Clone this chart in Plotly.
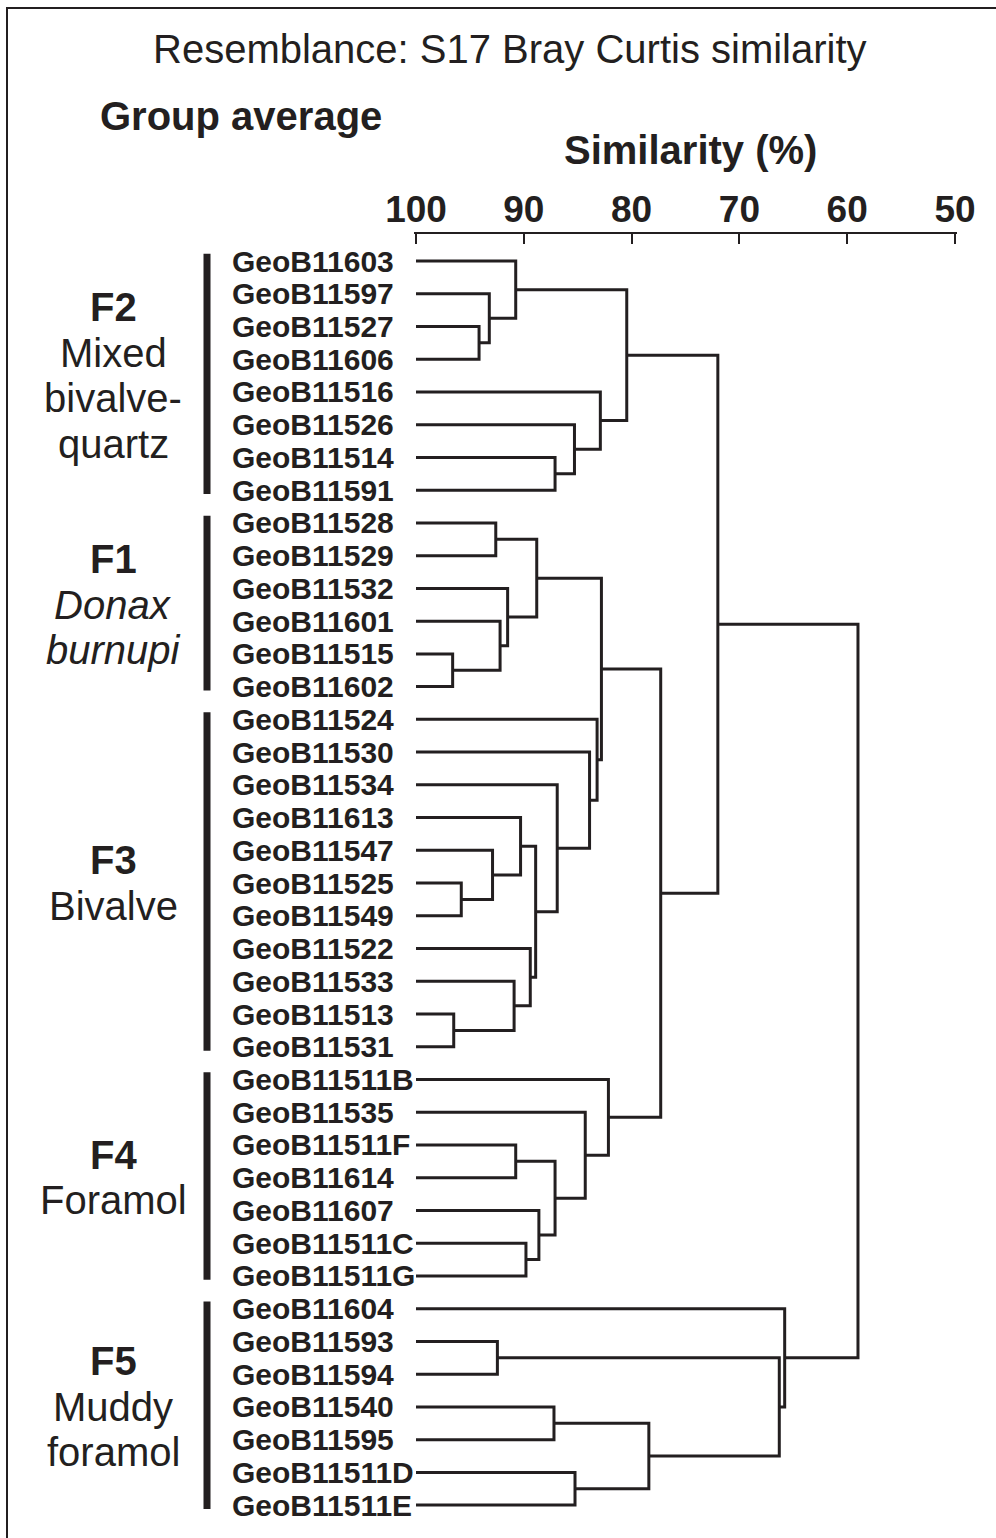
import plotly.graph_objects as go

# Sample names in dendrogram order (top to bottom)
leaves = [
    "GeoB11603", "GeoB11597", "GeoB11527", "GeoB11606", "GeoB11516", "GeoB11526",
    "GeoB11514", "GeoB11591", "GeoB11528", "GeoB11529", "GeoB11532", "GeoB11601",
    "GeoB11515", "GeoB11602", "GeoB11524", "GeoB11530", "GeoB11534", "GeoB11613",
    "GeoB11547", "GeoB11525", "GeoB11549", "GeoB11522", "GeoB11533", "GeoB11513",
    "GeoB11531", "GeoB11511B", "GeoB11535", "GeoB11511F", "GeoB11614", "GeoB11607",
    "GeoB11511C", "GeoB11511G", "GeoB11604", "GeoB11593", "GeoB11594", "GeoB11540",
    "GeoB11595", "GeoB11511D", "GeoB11511E",
]

# Group-average agglomeration: ids below 39 are samples,
# id 39 + k is the cluster formed at step k
merge_a = [2, 1, 0, 6, 5, 4, 41,
           12, 11, 10, 8, 49,
           19, 18, 17, 23, 22, 21, 53, 16, 15, 14, 50,
           27, 30, 29, 62, 26, 25, 61, 45,
           33, 35, 37, 71, 70, 32, 69]
merge_b = [3, 39, 40, 7, 42, 43, 44,
           13, 46, 47, 9, 48,
           20, 51, 52, 24, 54, 55, 56, 57, 58, 59, 60,
           28, 31, 63, 64, 65, 66, 67, 68,
           34, 36, 38, 72, 73, 74, 75]
merge_sim = [94.15, 93.2, 90.75, 87.1, 85.3, 82.9, 80.45,
             96.6, 92.2, 91.5, 92.6, 88.8,
             95.8, 92.9, 90.3, 96.5, 90.9, 89.4, 88.9, 86.9, 83.9, 83.2, 82.8,
             90.75, 89.8, 88.6, 87.1, 84.3, 82.15, 77.3, 72.0,
             92.45, 87.2, 85.25, 78.4, 66.3, 65.8, 59.0]

# Faunal groups: code, description lines, first and last sample index
group_codes = ["F2", "F1", "F3", "F4", "F5"]
group_desc = [["Mixed", "bivalve-", "quartz"], ["<i>Donax</i>", "<i>burnupi</i>"],
              ["Bivalve"], ["Foramol"], ["Muddy", "foramol"]]
group_first = [0, 8, 14, 25, 32]
group_last = [7, 13, 24, 31, 38]

sim_ticks = [100, 90, 80, 70, 60, 50]

INK = "#231f20"
FONT = "Liberation Sans, Arial, sans-serif"

# Build the dendrogram polylines
n = len(leaves)
node_x = [100.0] * n
node_y = [float(i) for i in range(n)]
xs, ys = [], []
for a, b, s in zip(merge_a, merge_b, merge_sim):
    xs += [node_x[a], s, s, node_x[b], None]
    ys += [node_y[a], node_y[a], node_y[b], node_y[b], None]
    node_x.append(s)
    node_y.append((node_y[a] + node_y[b]) / 2)

fig = go.Figure()
fig.add_trace(go.Scatter(x=xs, y=ys, mode="lines",
                         line=dict(color=INK, width=3), hoverinfo="skip",
                         showlegend=False))

W, H = 996, 1538
ML, MR, MT, MB = 414, 39, 234, 18
pw, ph = W - ML - MR, H - MT - MB
X100, PX_PER_UNIT = 416.0, 10.78     # screen position of 100 % and scale
LEAF0, PX_PER_LEAF = 261.0, 32.74


def px(x):
    return (x - ML) / pw


def py(y):
    return (H - MB - y) / ph


annotations = []
for i, name in enumerate(leaves):
    annotations.append(dict(x=px(230), xref="paper", y=i, yref="y", text=name,
                            xanchor="left", yanchor="middle", showarrow=False,
                            font=dict(family=FONT, size=30, color=INK, weight="bold")))

shapes = []
for code, desc, f, l in zip(group_codes, group_desc, group_first, group_last):
    lines = [("<b>%s</b>" % code)] + desc
    centre = (f + l) / 2
    step = 1.39
    for k, t in enumerate(lines):
        yy = centre + (k - (len(lines) - 1) / 2) * step
        annotations.append(dict(x=px(113), xref="paper", y=yy, yref="y", text=t,
                                xanchor="center", yanchor="middle", showarrow=False,
                                font=dict(family=FONT, size=40, color=INK)))
    shapes.append(dict(type="line", xref="paper", yref="y",
                       x0=px(207), x1=px(207), y0=f - 0.22, y1=l + 0.12,
                       line=dict(color=INK, width=7)))

annotations += [
    dict(x=px(510), y=py(49), xref="paper", yref="paper",
         text="Resemblance: S17 Bray Curtis similarity", showarrow=False,
         xanchor="center", yanchor="middle",
         font=dict(family=FONT, size=40, color=INK)),
    dict(x=px(241), y=py(116), xref="paper", yref="paper",
         text="Group average", showarrow=False, xanchor="center", yanchor="middle",
         font=dict(family=FONT, size=40, color=INK, weight="bold")),
    dict(x=px(690), y=py(150), xref="paper", yref="paper",
         text="Similarity (%)", showarrow=False, xanchor="center", yanchor="middle",
         font=dict(family=FONT, size=40, color=INK, weight="bold")),
]

# Outer frame
shapes.append(dict(type="rect", xref="paper", yref="paper",
                   x0=px(7), x1=px(1010), y0=py(1550), y1=py(8),
                   line=dict(color=INK, width=2)))

x_left = 100 + (X100 - ML) / PX_PER_UNIT
x_right = x_left - pw / PX_PER_UNIT
y_top = (MT - LEAF0) / PX_PER_LEAF
y_bottom = y_top + ph / PX_PER_LEAF

fig.update_layout(
    width=W, height=H,
    margin=dict(l=ML, r=MR, t=MT, b=MB),
    paper_bgcolor="white", plot_bgcolor="white",
    annotations=annotations, shapes=shapes,
    xaxis=dict(range=[x_left, x_right], side="top", tickvals=sim_ticks,
               ticktext=[str(t) for t in sim_ticks],
               showline=True, linecolor=INK, linewidth=2, mirror=False,
               ticks="inside", ticklen=10, tickwidth=2, tickcolor=INK,
               ticklabelstandoff=-5,
               tickfont=dict(family=FONT, size=37, color=INK, weight="bold"),
               showgrid=False, zeroline=False, fixedrange=True),
    yaxis=dict(range=[y_bottom, y_top], visible=False, fixedrange=True),
)

fig.write_html("out.html")
